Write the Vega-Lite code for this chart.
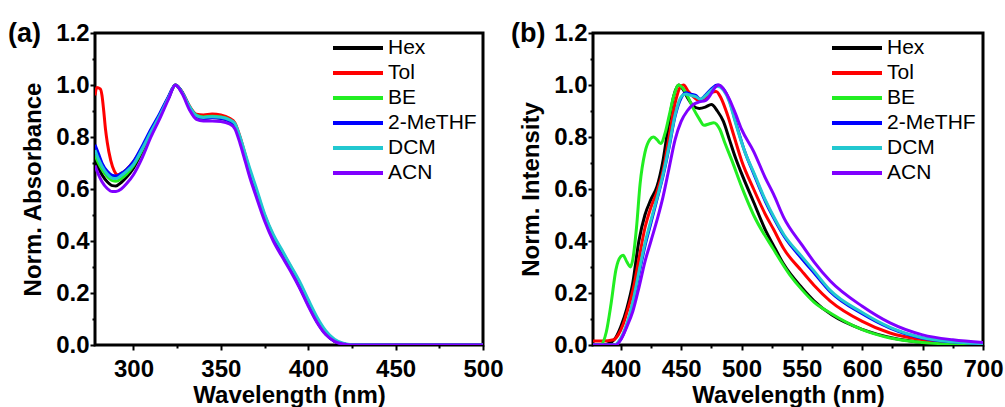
{
 "$schema": "https://vega.github.io/schema/vega-lite/v6.json",
 "padding": {"left": 6, "top": 18, "right": 5, "bottom": 0},
 "background": "white",
 "config": {
  "view": {"stroke": "black", "strokeWidth": 3},
  "font": "Liberation Sans",
  "axis": {"domain": false, "grid": false, "labelFont": "Liberation Sans", "labelFontWeight": "bold", "labelFontSize": 24, "labelColor": "black", "titleFont": "Liberation Sans", "titleFontWeight": "bold", "titleFontSize": 24, "titleColor": "black", "tickColor": "black", "tickWidth": 2},
  "legend": {"padding": 0, "labelFont": "Liberation Sans", "labelFontSize": 21, "labelColor": "black", "labelLimit": 300}
 },
 "datasets": {
  "abs": [
   {"s":"Hex","w":278,"v":0.71},{"s":"Hex","w":280,"v":0.68},{"s":"Hex","w":282,"v":0.655},{"s":"Hex","w":285,"v":0.628},{"s":"Hex","w":288,"v":0.613},{"s":"Hex","w":290,"v":0.612},{"s":"Hex","w":293,"v":0.625},{"s":"Hex","w":296,"v":0.645},{"s":"Hex","w":300,"v":0.68},{"s":"Hex","w":305,"v":0.745},{"s":"Hex","w":310,"v":0.815},{"s":"Hex","w":315,"v":0.88},{"s":"Hex","w":320,"v":0.95},{"s":"Hex","w":324,"v":1.0},{"s":"Hex","w":328,"v":0.97},{"s":"Hex","w":332,"v":0.915},{"s":"Hex","w":336,"v":0.88},{"s":"Hex","w":340,"v":0.872},{"s":"Hex","w":345,"v":0.875},{"s":"Hex","w":350,"v":0.872},{"s":"Hex","w":355,"v":0.862},{"s":"Hex","w":358,"v":0.845},{"s":"Hex","w":361,"v":0.79},{"s":"Hex","w":364,"v":0.72},{"s":"Hex","w":367,"v":0.65},{"s":"Hex","w":370,"v":0.59},{"s":"Hex","w":375,"v":0.49},{"s":"Hex","w":380,"v":0.41},{"s":"Hex","w":385,"v":0.35},{"s":"Hex","w":390,"v":0.29},{"s":"Hex","w":395,"v":0.225},{"s":"Hex","w":400,"v":0.155},{"s":"Hex","w":405,"v":0.09},{"s":"Hex","w":410,"v":0.042},{"s":"Hex","w":415,"v":0.015},{"s":"Hex","w":420,"v":0.004},{"s":"Hex","w":425,"v":0},{"s":"Hex","w":450,"v":0},{"s":"Hex","w":500,"v":0},
   {"s":"Tol","w":278,"v":0.96},{"s":"Tol","w":279,"v":0.99},{"s":"Tol","w":281,"v":0.985},{"s":"Tol","w":282,"v":0.96},{"s":"Tol","w":283,"v":0.9},{"s":"Tol","w":284,"v":0.83},{"s":"Tol","w":285,"v":0.78},{"s":"Tol","w":287,"v":0.71},{"s":"Tol","w":289,"v":0.67},{"s":"Tol","w":291,"v":0.655},{"s":"Tol","w":293,"v":0.66},{"s":"Tol","w":296,"v":0.675},{"s":"Tol","w":300,"v":0.705},{"s":"Tol","w":305,"v":0.76},{"s":"Tol","w":310,"v":0.825},{"s":"Tol","w":315,"v":0.885},{"s":"Tol","w":320,"v":0.952},{"s":"Tol","w":324,"v":1.0},{"s":"Tol","w":328,"v":0.972},{"s":"Tol","w":332,"v":0.92},{"s":"Tol","w":336,"v":0.888},{"s":"Tol","w":340,"v":0.885},{"s":"Tol","w":345,"v":0.888},{"s":"Tol","w":350,"v":0.885},{"s":"Tol","w":355,"v":0.872},{"s":"Tol","w":358,"v":0.855},{"s":"Tol","w":361,"v":0.8},{"s":"Tol","w":364,"v":0.73},{"s":"Tol","w":367,"v":0.66},{"s":"Tol","w":370,"v":0.6},{"s":"Tol","w":375,"v":0.5},{"s":"Tol","w":380,"v":0.42},{"s":"Tol","w":385,"v":0.36},{"s":"Tol","w":390,"v":0.3},{"s":"Tol","w":395,"v":0.233},{"s":"Tol","w":400,"v":0.16},{"s":"Tol","w":405,"v":0.093},{"s":"Tol","w":410,"v":0.044},{"s":"Tol","w":415,"v":0.016},{"s":"Tol","w":420,"v":0.004},{"s":"Tol","w":425,"v":0},{"s":"Tol","w":450,"v":0},{"s":"Tol","w":500,"v":0},
   {"s":"BE","w":278,"v":0.73},{"s":"BE","w":280,"v":0.7},{"s":"BE","w":282,"v":0.675},{"s":"BE","w":285,"v":0.648},{"s":"BE","w":288,"v":0.632},{"s":"BE","w":290,"v":0.63},{"s":"BE","w":293,"v":0.64},{"s":"BE","w":296,"v":0.657},{"s":"BE","w":300,"v":0.69},{"s":"BE","w":305,"v":0.75},{"s":"BE","w":310,"v":0.818},{"s":"BE","w":315,"v":0.882},{"s":"BE","w":320,"v":0.95},{"s":"BE","w":324,"v":1.0},{"s":"BE","w":328,"v":0.97},{"s":"BE","w":332,"v":0.917},{"s":"BE","w":336,"v":0.884},{"s":"BE","w":340,"v":0.877},{"s":"BE","w":345,"v":0.88},{"s":"BE","w":350,"v":0.877},{"s":"BE","w":355,"v":0.866},{"s":"BE","w":358,"v":0.848},{"s":"BE","w":361,"v":0.792},{"s":"BE","w":364,"v":0.722},{"s":"BE","w":367,"v":0.652},{"s":"BE","w":370,"v":0.592},{"s":"BE","w":375,"v":0.492},{"s":"BE","w":380,"v":0.412},{"s":"BE","w":385,"v":0.352},{"s":"BE","w":390,"v":0.292},{"s":"BE","w":395,"v":0.228},{"s":"BE","w":400,"v":0.158},{"s":"BE","w":405,"v":0.092},{"s":"BE","w":410,"v":0.043},{"s":"BE","w":415,"v":0.016},{"s":"BE","w":420,"v":0.004},{"s":"BE","w":425,"v":0},{"s":"BE","w":450,"v":0},{"s":"BE","w":500,"v":0},
   {"s":"2-MeTHF","w":278,"v":0.77},{"s":"2-MeTHF","w":280,"v":0.735},{"s":"2-MeTHF","w":282,"v":0.7},{"s":"2-MeTHF","w":285,"v":0.668},{"s":"2-MeTHF","w":288,"v":0.652},{"s":"2-MeTHF","w":290,"v":0.65},{"s":"2-MeTHF","w":293,"v":0.66},{"s":"2-MeTHF","w":296,"v":0.675},{"s":"2-MeTHF","w":300,"v":0.705},{"s":"2-MeTHF","w":305,"v":0.765},{"s":"2-MeTHF","w":310,"v":0.83},{"s":"2-MeTHF","w":315,"v":0.89},{"s":"2-MeTHF","w":320,"v":0.955},{"s":"2-MeTHF","w":324,"v":1.0},{"s":"2-MeTHF","w":328,"v":0.97},{"s":"2-MeTHF","w":332,"v":0.915},{"s":"2-MeTHF","w":336,"v":0.88},{"s":"2-MeTHF","w":340,"v":0.872},{"s":"2-MeTHF","w":345,"v":0.875},{"s":"2-MeTHF","w":350,"v":0.872},{"s":"2-MeTHF","w":355,"v":0.862},{"s":"2-MeTHF","w":358,"v":0.845},{"s":"2-MeTHF","w":361,"v":0.79},{"s":"2-MeTHF","w":364,"v":0.72},{"s":"2-MeTHF","w":367,"v":0.65},{"s":"2-MeTHF","w":370,"v":0.59},{"s":"2-MeTHF","w":375,"v":0.49},{"s":"2-MeTHF","w":380,"v":0.41},{"s":"2-MeTHF","w":385,"v":0.35},{"s":"2-MeTHF","w":390,"v":0.29},{"s":"2-MeTHF","w":395,"v":0.226},{"s":"2-MeTHF","w":400,"v":0.156},{"s":"2-MeTHF","w":405,"v":0.091},{"s":"2-MeTHF","w":410,"v":0.043},{"s":"2-MeTHF","w":415,"v":0.015},{"s":"2-MeTHF","w":420,"v":0.004},{"s":"2-MeTHF","w":425,"v":0},{"s":"2-MeTHF","w":450,"v":0},{"s":"2-MeTHF","w":500,"v":0},
   {"s":"DCM","w":278,"v":0.75},{"s":"DCM","w":280,"v":0.715},{"s":"DCM","w":282,"v":0.688},{"s":"DCM","w":285,"v":0.658},{"s":"DCM","w":288,"v":0.642},{"s":"DCM","w":290,"v":0.64},{"s":"DCM","w":293,"v":0.652},{"s":"DCM","w":296,"v":0.668},{"s":"DCM","w":300,"v":0.695},{"s":"DCM","w":305,"v":0.755},{"s":"DCM","w":310,"v":0.82},{"s":"DCM","w":315,"v":0.882},{"s":"DCM","w":320,"v":0.95},{"s":"DCM","w":324,"v":1.0},{"s":"DCM","w":328,"v":0.97},{"s":"DCM","w":332,"v":0.918},{"s":"DCM","w":336,"v":0.882},{"s":"DCM","w":340,"v":0.875},{"s":"DCM","w":345,"v":0.878},{"s":"DCM","w":350,"v":0.876},{"s":"DCM","w":355,"v":0.866},{"s":"DCM","w":358,"v":0.852},{"s":"DCM","w":361,"v":0.8},{"s":"DCM","w":364,"v":0.735},{"s":"DCM","w":367,"v":0.67},{"s":"DCM","w":370,"v":0.61},{"s":"DCM","w":375,"v":0.505},{"s":"DCM","w":380,"v":0.425},{"s":"DCM","w":385,"v":0.365},{"s":"DCM","w":390,"v":0.305},{"s":"DCM","w":395,"v":0.245},{"s":"DCM","w":400,"v":0.175},{"s":"DCM","w":405,"v":0.108},{"s":"DCM","w":410,"v":0.055},{"s":"DCM","w":415,"v":0.022},{"s":"DCM","w":420,"v":0.007},{"s":"DCM","w":425,"v":0.001},{"s":"DCM","w":450,"v":0},{"s":"DCM","w":500,"v":0},
   {"s":"ACN","w":278,"v":0.69},{"s":"ACN","w":280,"v":0.655},{"s":"ACN","w":282,"v":0.628},{"s":"ACN","w":285,"v":0.602},{"s":"ACN","w":288,"v":0.59},{"s":"ACN","w":290,"v":0.59},{"s":"ACN","w":293,"v":0.6},{"s":"ACN","w":296,"v":0.62},{"s":"ACN","w":300,"v":0.655},{"s":"ACN","w":305,"v":0.72},{"s":"ACN","w":310,"v":0.8},{"s":"ACN","w":315,"v":0.87},{"s":"ACN","w":320,"v":0.945},{"s":"ACN","w":324,"v":1.0},{"s":"ACN","w":328,"v":0.965},{"s":"ACN","w":332,"v":0.905},{"s":"ACN","w":336,"v":0.868},{"s":"ACN","w":340,"v":0.862},{"s":"ACN","w":345,"v":0.862},{"s":"ACN","w":350,"v":0.86},{"s":"ACN","w":355,"v":0.85},{"s":"ACN","w":358,"v":0.832},{"s":"ACN","w":361,"v":0.775},{"s":"ACN","w":364,"v":0.705},{"s":"ACN","w":367,"v":0.635},{"s":"ACN","w":370,"v":0.575},{"s":"ACN","w":375,"v":0.478},{"s":"ACN","w":380,"v":0.4},{"s":"ACN","w":385,"v":0.34},{"s":"ACN","w":390,"v":0.283},{"s":"ACN","w":395,"v":0.22},{"s":"ACN","w":400,"v":0.15},{"s":"ACN","w":405,"v":0.087},{"s":"ACN","w":410,"v":0.04},{"s":"ACN","w":415,"v":0.014},{"s":"ACN","w":420,"v":0.004},{"s":"ACN","w":425,"v":0},{"s":"ACN","w":450,"v":0},{"s":"ACN","w":500,"v":0}
  ],
  "em": [
   {"s":"Hex","w":377,"v":0.0},{"s":"Hex","w":385,"v":0.0},{"s":"Hex","w":392,"v":0.01},{"s":"Hex","w":396,"v":0.03},{"s":"Hex","w":400,"v":0.07},{"s":"Hex","w":405,"v":0.14},{"s":"Hex","w":410,"v":0.24},{"s":"Hex","w":415,"v":0.4},{"s":"Hex","w":420,"v":0.5},{"s":"Hex","w":425,"v":0.56},{"s":"Hex","w":430,"v":0.61},{"s":"Hex","w":435,"v":0.71},{"s":"Hex","w":440,"v":0.86},{"s":"Hex","w":444,"v":0.96},{"s":"Hex","w":448,"v":1.0},{"s":"Hex","w":452,"v":0.98},{"s":"Hex","w":456,"v":0.945},{"s":"Hex","w":460,"v":0.92},{"s":"Hex","w":465,"v":0.91},{"s":"Hex","w":470,"v":0.915},{"s":"Hex","w":475,"v":0.925},{"s":"Hex","w":480,"v":0.9},{"s":"Hex","w":485,"v":0.86},{"s":"Hex","w":490,"v":0.79},{"s":"Hex","w":495,"v":0.72},{"s":"Hex","w":500,"v":0.66},{"s":"Hex","w":510,"v":0.55},{"s":"Hex","w":520,"v":0.44},{"s":"Hex","w":526,"v":0.387},{"s":"Hex","w":535,"v":0.31},{"s":"Hex","w":550,"v":0.22},{"s":"Hex","w":560,"v":0.17},{"s":"Hex","w":575,"v":0.115},{"s":"Hex","w":600,"v":0.06},{"s":"Hex","w":625,"v":0.027},{"s":"Hex","w":650,"v":0.01},{"s":"Hex","w":675,"v":0.003},{"s":"Hex","w":700,"v":0.0},
   {"s":"Tol","w":377,"v":0.015},{"s":"Tol","w":385,"v":0.015},{"s":"Tol","w":394,"v":0.02},{"s":"Tol","w":398,"v":0.04},{"s":"Tol","w":402,"v":0.08},{"s":"Tol","w":406,"v":0.14},{"s":"Tol","w":410,"v":0.21},{"s":"Tol","w":415,"v":0.33},{"s":"Tol","w":420,"v":0.45},{"s":"Tol","w":425,"v":0.53},{"s":"Tol","w":430,"v":0.59},{"s":"Tol","w":435,"v":0.67},{"s":"Tol","w":440,"v":0.8},{"s":"Tol","w":445,"v":0.93},{"s":"Tol","w":449,"v":0.99},{"s":"Tol","w":452,"v":1.0},{"s":"Tol","w":456,"v":0.975},{"s":"Tol","w":460,"v":0.955},{"s":"Tol","w":465,"v":0.94},{"s":"Tol","w":470,"v":0.945},{"s":"Tol","w":475,"v":0.97},{"s":"Tol","w":479,"v":0.975},{"s":"Tol","w":483,"v":0.95},{"s":"Tol","w":488,"v":0.89},{"s":"Tol","w":494,"v":0.8},{"s":"Tol","w":500,"v":0.71},{"s":"Tol","w":510,"v":0.6},{"s":"Tol","w":520,"v":0.5},{"s":"Tol","w":526.5,"v":0.445},{"s":"Tol","w":535,"v":0.37},{"s":"Tol","w":550,"v":0.284},{"s":"Tol","w":560,"v":0.23},{"s":"Tol","w":573.5,"v":0.169},{"s":"Tol","w":600,"v":0.091},{"s":"Tol","w":623,"v":0.046},{"s":"Tol","w":650,"v":0.02},{"s":"Tol","w":675,"v":0.008},{"s":"Tol","w":700,"v":0.003},
   {"s":"BE","w":377,"v":0.0},{"s":"BE","w":383,"v":0.0},{"s":"BE","w":388,"v":0.05},{"s":"BE","w":392,"v":0.16},{"s":"BE","w":396,"v":0.29},{"s":"BE","w":400,"v":0.34},{"s":"BE","w":402,"v":0.345},{"s":"BE","w":405,"v":0.32},{"s":"BE","w":408,"v":0.3},{"s":"BE","w":410,"v":0.33},{"s":"BE","w":413,"v":0.45},{"s":"BE","w":416,"v":0.62},{"s":"BE","w":420,"v":0.74},{"s":"BE","w":424,"v":0.79},{"s":"BE","w":427,"v":0.8},{"s":"BE","w":430,"v":0.79},{"s":"BE","w":433,"v":0.775},{"s":"BE","w":437,"v":0.82},{"s":"BE","w":440,"v":0.88},{"s":"BE","w":444,"v":0.96},{"s":"BE","w":448,"v":1.0},{"s":"BE","w":451,"v":0.99},{"s":"BE","w":455,"v":0.96},{"s":"BE","w":460,"v":0.91},{"s":"BE","w":465,"v":0.87},{"s":"BE","w":469,"v":0.845},{"s":"BE","w":473,"v":0.85},{"s":"BE","w":477,"v":0.855},{"s":"BE","w":482,"v":0.83},{"s":"BE","w":486,"v":0.78},{"s":"BE","w":492,"v":0.71},{"s":"BE","w":500,"v":0.61},{"s":"BE","w":510,"v":0.5},{"s":"BE","w":526.5,"v":0.368},{"s":"BE","w":540,"v":0.27},{"s":"BE","w":550,"v":0.213},{"s":"BE","w":560,"v":0.165},{"s":"BE","w":573.5,"v":0.123},{"s":"BE","w":600,"v":0.059},{"s":"BE","w":623,"v":0.027},{"s":"BE","w":650,"v":0.01},{"s":"BE","w":675,"v":0.003},{"s":"BE","w":700,"v":0.0},
   {"s":"2-MeTHF","w":377,"v":0.0},{"s":"2-MeTHF","w":395,"v":0.0},{"s":"2-MeTHF","w":398,"v":0.01},{"s":"2-MeTHF","w":402,"v":0.04},{"s":"2-MeTHF","w":406,"v":0.09},{"s":"2-MeTHF","w":410,"v":0.16},{"s":"2-MeTHF","w":415,"v":0.27},{"s":"2-MeTHF","w":420,"v":0.38},{"s":"2-MeTHF","w":425,"v":0.47},{"s":"2-MeTHF","w":430,"v":0.56},{"s":"2-MeTHF","w":435,"v":0.65},{"s":"2-MeTHF","w":440,"v":0.76},{"s":"2-MeTHF","w":445,"v":0.88},{"s":"2-MeTHF","w":450,"v":0.95},{"s":"2-MeTHF","w":454,"v":0.97},{"s":"2-MeTHF","w":458,"v":0.965},{"s":"2-MeTHF","w":462,"v":0.96},{"s":"2-MeTHF","w":466,"v":0.945},{"s":"2-MeTHF","w":470,"v":0.96},{"s":"2-MeTHF","w":475,"v":0.985},{"s":"2-MeTHF","w":480,"v":1.0},{"s":"2-MeTHF","w":485,"v":0.985},{"s":"2-MeTHF","w":490,"v":0.94},{"s":"2-MeTHF","w":495,"v":0.86},{"s":"2-MeTHF","w":503,"v":0.74},{"s":"2-MeTHF","w":510,"v":0.66},{"s":"2-MeTHF","w":520,"v":0.55},{"s":"2-MeTHF","w":526.5,"v":0.49},{"s":"2-MeTHF","w":535,"v":0.42},{"s":"2-MeTHF","w":550,"v":0.332},{"s":"2-MeTHF","w":560,"v":0.278},{"s":"2-MeTHF","w":573.5,"v":0.205},{"s":"2-MeTHF","w":600,"v":0.12},{"s":"2-MeTHF","w":623,"v":0.065},{"s":"2-MeTHF","w":650,"v":0.026},{"s":"2-MeTHF","w":675,"v":0.012},{"s":"2-MeTHF","w":700,"v":0.005},
   {"s":"DCM","w":377,"v":0.0},{"s":"DCM","w":395,"v":0.0},{"s":"DCM","w":398,"v":0.012},{"s":"DCM","w":402,"v":0.045},{"s":"DCM","w":406,"v":0.095},{"s":"DCM","w":410,"v":0.165},{"s":"DCM","w":415,"v":0.28},{"s":"DCM","w":420,"v":0.39},{"s":"DCM","w":425,"v":0.48},{"s":"DCM","w":430,"v":0.565},{"s":"DCM","w":435,"v":0.655},{"s":"DCM","w":440,"v":0.765},{"s":"DCM","w":445,"v":0.885},{"s":"DCM","w":450,"v":0.955},{"s":"DCM","w":454,"v":0.965},{"s":"DCM","w":458,"v":0.96},{"s":"DCM","w":462,"v":0.955},{"s":"DCM","w":466,"v":0.945},{"s":"DCM","w":470,"v":0.958},{"s":"DCM","w":475,"v":0.98},{"s":"DCM","w":480,"v":0.995},{"s":"DCM","w":485,"v":0.98},{"s":"DCM","w":490,"v":0.935},{"s":"DCM","w":495,"v":0.855},{"s":"DCM","w":503,"v":0.74},{"s":"DCM","w":510,"v":0.665},{"s":"DCM","w":520,"v":0.555},{"s":"DCM","w":526.5,"v":0.495},{"s":"DCM","w":535,"v":0.425},{"s":"DCM","w":550,"v":0.34},{"s":"DCM","w":560,"v":0.285},{"s":"DCM","w":573.5,"v":0.21},{"s":"DCM","w":600,"v":0.125},{"s":"DCM","w":623,"v":0.068},{"s":"DCM","w":650,"v":0.028},{"s":"DCM","w":675,"v":0.012},{"s":"DCM","w":700,"v":0.005},
   {"s":"ACN","w":377,"v":0.0},{"s":"ACN","w":396,"v":0.0},{"s":"ACN","w":400,"v":0.02},{"s":"ACN","w":405,"v":0.07},{"s":"ACN","w":410,"v":0.13},{"s":"ACN","w":415,"v":0.22},{"s":"ACN","w":420,"v":0.32},{"s":"ACN","w":425,"v":0.4},{"s":"ACN","w":430,"v":0.48},{"s":"ACN","w":435,"v":0.57},{"s":"ACN","w":440,"v":0.68},{"s":"ACN","w":445,"v":0.79},{"s":"ACN","w":450,"v":0.86},{"s":"ACN","w":455,"v":0.9},{"s":"ACN","w":460,"v":0.925},{"s":"ACN","w":465,"v":0.935},{"s":"ACN","w":470,"v":0.94},{"s":"ACN","w":474,"v":0.96},{"s":"ACN","w":478,"v":0.99},{"s":"ACN","w":481,"v":1.0},{"s":"ACN","w":485,"v":0.985},{"s":"ACN","w":490,"v":0.945},{"s":"ACN","w":495,"v":0.89},{"s":"ACN","w":500,"v":0.83},{"s":"ACN","w":510,"v":0.745},{"s":"ACN","w":520,"v":0.64},{"s":"ACN","w":526.5,"v":0.58},{"s":"ACN","w":535,"v":0.49},{"s":"ACN","w":550,"v":0.385},{"s":"ACN","w":560,"v":0.32},{"s":"ACN","w":573.5,"v":0.246},{"s":"ACN","w":600,"v":0.149},{"s":"ACN","w":623,"v":0.085},{"s":"ACN","w":650,"v":0.039},{"s":"ACN","w":675,"v":0.02},{"s":"ACN","w":700,"v":0.01}
  ]
 },
 "bounds": "flush",
 "spacing": 110,
 "resolve": {"scale": {"color": "independent"}, "legend": {"color": "independent"}},
 "hconcat": [
  {
   "width": 388, "height": 312,
   "title": {"text": "(a)", "anchor": "start", "frame": "group", "fontSize": 27, "fontWeight": "bold", "font": "Liberation Sans", "color": "black", "dx": -87, "dy": 0, "offset": -40, "baseline": "middle"},
   "data": {"name": "abs"},
   "mark": {"type": "line", "strokeWidth": 3, "clip": true, "interpolate": "monotone"},
   "encoding": {
    "x": {"field": "w", "type": "quantitative", "scale": {"domain": [278, 500], "nice": false, "zero": false},
     "axis": {"title": "Wavelength (nm)", "values": [300,325,350,375,400,425,450,475,500], "labelExpr": "datum.value % 50 === 0 ? datum.label : ''", "tickSize": {"condition": {"test": "datum.value % 50 !== 0", "value": 3}, "value": 5}, "labelPadding": 7, "titlePadding": 2, "labelFlush": false}},
    "y": {"field": "v", "type": "quantitative", "scale": {"domain": [0, 1.2], "nice": false, "zero": false},
     "axis": {"title": "Norm. Absorbance", "values": [0,0.1,0.2,0.3,0.4,0.5,0.6,0.7,0.8,0.9,1.0,1.1,1.2], "format": ".1f", "labelExpr": "round(datum.value*10) % 2 === 0 ? datum.label : ''", "tickSize": {"condition": {"test": "round(datum.value*10) % 2 !== 0", "value": 3}, "value": 5}, "labelPadding": 1, "titlePadding": 10, "labelFlush": false}},
    "color": {"field": "s", "type": "nominal", "sort": ["Hex","Tol","BE","2-MeTHF","DCM","ACN"],
     "scale": {"domain": ["Hex","Tol","BE","2-MeTHF","DCM","ACN"], "range": ["#000000","#FF0000","#22EE22","#0000FF","#22C8D0","#8000FF"]},
     "legend": {"title": null, "orient": "none", "legendX": 236, "legendY": 5, "symbolType": "stroke", "symbolSize": 2500, "symbolStrokeWidth": 4, "clipHeight": 20, "rowPadding": 4, "labelOffset": 3}}
   }
  },
  {
   "width": 390, "height": 312,
   "title": {"text": "(b)", "anchor": "start", "frame": "group", "fontSize": 27, "fontWeight": "bold", "font": "Liberation Sans", "color": "black", "dx": -82, "dy": 0, "offset": -40, "baseline": "middle"},
   "data": {"name": "em"},
   "mark": {"type": "line", "strokeWidth": 3, "clip": true, "interpolate": "monotone"},
   "encoding": {
    "x": {"field": "w", "type": "quantitative", "scale": {"domain": [377, 700], "nice": false, "zero": false},
     "axis": {"title": "Wavelength (nm)", "values": [400,425,450,475,500,525,550,575,600,625,650,675,700], "labelExpr": "datum.value % 50 === 0 ? datum.label : ''", "tickSize": {"condition": {"test": "datum.value % 50 !== 0", "value": 3}, "value": 5}, "labelPadding": 7, "titlePadding": 2, "labelFlush": false}},
    "y": {"field": "v", "type": "quantitative", "scale": {"domain": [0, 1.2], "nice": false, "zero": false},
     "axis": {"title": "Norm. Intensity", "values": [0,0.1,0.2,0.3,0.4,0.5,0.6,0.7,0.8,0.9,1.0,1.1,1.2], "format": ".1f", "labelExpr": "round(datum.value*10) % 2 === 0 ? datum.label : ''", "tickSize": {"condition": {"test": "round(datum.value*10) % 2 !== 0", "value": 3}, "value": 5}, "labelPadding": 1, "titlePadding": 10, "labelFlush": false}},
    "color": {"field": "s", "type": "nominal", "sort": ["Hex","Tol","BE","2-MeTHF","DCM","ACN"],
     "scale": {"domain": ["Hex","Tol","BE","2-MeTHF","DCM","ACN"], "range": ["#000000","#FF0000","#22EE22","#0000FF","#22C8D0","#8000FF"]},
     "legend": {"title": null, "orient": "none", "legendX": 237, "legendY": 5, "symbolType": "stroke", "symbolSize": 2500, "symbolStrokeWidth": 4, "clipHeight": 20, "rowPadding": 4, "labelOffset": 3}}
   }
  }
 ]
}
